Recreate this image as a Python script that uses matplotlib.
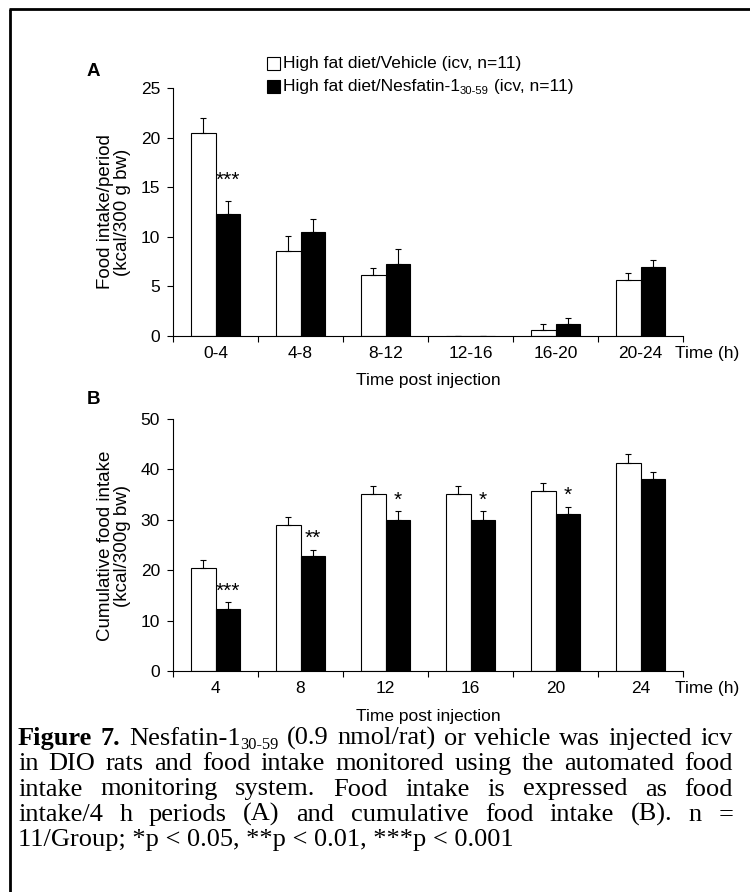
import numpy as np
import matplotlib
matplotlib.use("Agg")
import matplotlib.pyplot as plt
from matplotlib.patches import Rectangle

plt.rcParams['font.family'] = ['Liberation Sans', 'DejaVu Sans']

# ---------------- data ----------------
periods = ["0-4", "4-8", "8-12", "12-16", "16-20", "20-24"]
veh_period = [20.5, 8.6, 6.1, 0.0, 0.57, 5.6]
veh_period_err = [1.5, 1.5, 0.8, 0.0, 0.6, 0.8]
nes_period = [12.3, 10.5, 7.25, 0.0, 1.2, 7.0]
nes_period_err = [1.35, 1.3, 1.5, 0.0, 0.6, 0.7]
sig_period = ["***", "", "", "", "", ""]

cum_times = ["4", "8", "12", "16", "20", "24"]
veh_cum = [20.45, 29.05, 35.15, 35.15, 35.7, 41.3]
veh_cum_err = [1.55, 1.6, 1.65, 1.65, 1.65, 1.75]
nes_cum = [12.3, 22.85, 30.0, 30.0, 31.2, 38.15]
nes_cum_err = [1.3, 1.2, 1.7, 1.7, 1.4, 1.35]
sig_cum = ["***", "**", "*", "*", "*", ""]

legend_vehicle = "High fat diet/Vehicle (icv, n=11)"
legend_nes = ("High fat diet/Nesfatin-1", "30-59", " (icv, n=11)")

caption_lines = [
    "Figure 7. Nesfatin-1_{30-59} (0.9 nmol/rat) or vehicle was injected icv",
    "in DIO rats and food intake monitored using the automated food",
    "intake monitoring system. Food intake is expressed as food",
    "intake/4 h periods (A) and cumulative food intake (B). n =",
    "11/Group; *p < 0.05, **p < 0.01, ***p < 0.001",
]
bold_words = {"Figure", "7."}

# ---------------- figure ----------------
W, H = 750, 892
fig = plt.figure(figsize=(W / 100, H / 100), dpi=100)
ov = fig.add_axes([0, 0, 1, 1], zorder=-5)
ov.set_xlim(0, W)
ov.set_ylim(H, 0)
ov.axis('off')
renderer = fig.canvas.get_renderer()

# frame (top + left only)
ov.plot([9, W], [9, 9], color='black', lw=2.0, solid_capstyle='butt')
ov.plot([10, 10], [9, H], color='black', lw=2.0, solid_capstyle='butt')

TICK_FS = 12.5


def panel(rect, cats, v, ve, n, ne, ymax, ystep, sig, sig_off):
    l, t, r, b = rect
    ax = fig.add_axes([l / W, (H - b) / H, (r - l) / W, (b - t) / H])
    ax.patch.set_visible(False)
    x = np.arange(len(cats))
    w = 0.29
    ax.bar(x - w / 2, v, w, color='white', edgecolor='black', lw=0.8, zorder=2)
    ax.bar(x + w / 2, n, w, color='black', edgecolor='black', lw=0.8, zorder=2)
    z = np.zeros(len(cats))
    ax.errorbar(x - w / 2, v, yerr=[z, ve], fmt='none', ecolor='black',
                elinewidth=0.8, capsize=2.5, capthick=0.8, zorder=3)
    ax.errorbar(x + w / 2, n, yerr=[z, ne], fmt='none', ecolor='black',
                elinewidth=0.8, capsize=2.5, capthick=0.8, zorder=3)
    for i, s in enumerate(sig):
        if s:
            ax.annotate(s, xy=(x[i] + w / 2, n[i] + ne[i]), xytext=(0, sig_off),
                        textcoords='offset points', ha='center', va='baseline',
                        fontsize=15)
    ax.set_xlim(-0.5, len(cats) - 0.5)
    ax.set_ylim(0, ymax)
    ax.set_yticks(np.arange(0, ymax + 0.01, ystep))
    ax.set_xticks(np.arange(-0.5, len(cats), 1))
    ax.set_xticklabels([])
    ax.set_xticks(x, minor=True)
    ax.set_xticklabels(cats, minor=True)
    ax.tick_params(axis='x', which='major', length=4, width=0.8, direction='out')
    ax.tick_params(axis='x', which='minor', length=0, pad=7.5, labelsize=TICK_FS)
    ax.tick_params(axis='y', length=4.3, width=0.8, pad=5, labelsize=TICK_FS)
    for sp in ['top', 'right']:
        ax.spines[sp].set_visible(False)
    for sp in ['left', 'bottom']:
        ax.spines[sp].set_linewidth(0.8)
    ax.annotate("Time (h)", xy=(1, 0), xycoords='axes fraction', xytext=(-6, -7.5),
                textcoords='offset points', ha='left', va='top', fontsize=TICK_FS)
    return ax


axA = panel((173, 88, 683, 336), periods, veh_period, veh_period_err,
            nes_period, nes_period_err, 25, 5, sig_period, 10.5)
axB = panel((173, 419, 683, 671), cum_times, veh_cum, veh_cum_err,
            nes_cum, nes_cum_err, 50, 10, sig_cum, 4)

# y labels
ov.text(114, 212, "Food intake/period\n(kcal/300 g bw)", rotation=90, ha='center',
        va='center', multialignment='center', fontsize=13.5, linespacing=1.05)
ov.text(114, 546, "Cumulative food intake\n(kcal/300g bw)", rotation=90, ha='center',
        va='center', multialignment='center', fontsize=13.5, linespacing=1.05)

# x labels
ov.text(428, 380, "Time post injection", ha='center', va='center', fontsize=12.5)
ov.text(428, 716, "Time post injection", ha='center', va='center', fontsize=12.5)

# panel letters
ov.text(93, 71, "A", ha='center', va='center', fontsize=13.5, fontweight='bold')
ov.text(93, 399, "B", ha='center', va='center', fontsize=13.5, fontweight='bold')

# legend
LEG_FS = 12.5
ov.add_patch(Rectangle((267, 57), 13, 13, facecolor='white', edgecolor='black', lw=0.8))
ov.add_patch(Rectangle((267, 80), 13, 13, facecolor='black', edgecolor='black', lw=0.8))
ov.text(283, 63.5, legend_vehicle, ha='left', va='center', fontsize=LEG_FS)
t1 = ov.text(283, 86.5, legend_nes[0], ha='left', va='center', fontsize=LEG_FS)
wx = 283 + t1.get_window_extent(renderer).width
t2 = ov.text(wx, 90.5, legend_nes[1], ha='left', va='center', fontsize=LEG_FS * 0.65)
wx += t2.get_window_extent(renderer).width
ov.text(wx, 86.5, legend_nes[2], ha='left', va='center', fontsize=LEG_FS)

# caption (justified)
CAP_FS = 19
SERIF = ['Liberation Serif', 'DejaVu Serif']
x_left, x_right = 18, 733
baselines = [745, 770, 795.5, 821, 846]


def make_word(word, y):
    parts = []
    if "_{" in word:
        main, rest = word.split("_{")
        sub = rest.rstrip("}")
        parts.append(ov.text(0, y, main, fontsize=CAP_FS, family=SERIF, va='baseline',
                             fontweight='bold' if main in bold_words else 'normal'))
        parts.append(ov.text(0, y + 4, sub, fontsize=CAP_FS * 0.62, family=SERIF,
                             va='baseline'))
    else:
        parts.append(ov.text(0, y, word, fontsize=CAP_FS, family=SERIF, va='baseline',
                             fontweight='bold' if word in bold_words else 'normal'))
    widths = [p.get_window_extent(renderer).width for p in parts]
    return parts, widths


for li, line in enumerate(caption_lines):
    y = baselines[li]
    if li == len(caption_lines) - 1:
        ov.text(x_left, y, line, fontsize=CAP_FS, family=SERIF, va='baseline')
        continue
    words = line.split(" ")
    built = [make_word(wd, y) for wd in words]
    total = sum(sum(ws) for _, ws in built)
    gap = (x_right - x_left - total) / (len(words) - 1)
    xx = x_left
    for parts, ws in built:
        for p, wdt in zip(parts, ws):
            p.set_x(xx)
            xx += wdt
        xx += gap

fig.savefig("out.png", dpi=100)
